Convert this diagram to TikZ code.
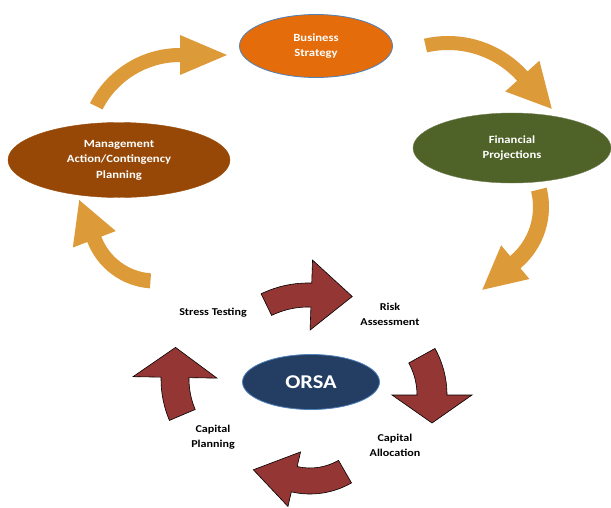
\documentclass[tikz,border=0pt]{standalone}
\usepackage{fontspec}
\setmainfont[FakeStretch=1.15]{Carlito}
\usetikzlibrary{shapes.geometric}

\definecolor{gold}{RGB}{221,154,56}
\definecolor{wine}{RGB}{148,54,52}
\definecolor{pumpkin}{RGB}{228,108,10}
\definecolor{olive}{RGB}{79,98,40}
\definecolor{rust}{RGB}{151,72,6}
\definecolor{navy}{RGB}{35,62,98}
\definecolor{steel}{RGB}{79,129,189}

% curved block arrow along a circle: [style]{centre}{radius}{tail angle}{head angle}{half band}{half head}{head length}
\newcommand{\bandarrow}[8][]{%
  \pgfmathsetmacro\bandturn{ifthenelse(#5>#4,90,-90)}
  \pgfmathsetmacro\ro{#3+#6}
  \pgfmathsetmacro\ri{#3-#6}
  \pgfmathsetmacro\ho{#3+#7}
  \pgfmathsetmacro\hi{#3-#7}
  \pgfmathsetmacro\tipx{#3*cos(#5)+#8*cos(#5+\bandturn)}
  \pgfmathsetmacro\tipy{#3*sin(#5)+#8*sin(#5+\bandturn)}
  \begin{scope}[shift={#2}]
    \filldraw[#1] (#4:\ro) arc[start angle=#4,end angle=#5,radius=\ro]
      -- (#5:\ho) -- (\tipx,\tipy) -- (#5:\hi) -- (#5:\ri)
      arc[start angle=#5,end angle=#4,radius=\ri] -- cycle;
  \end{scope}}

\begin{document}
\begin{tikzpicture}[x=1pt,y=-1pt,
    stage/.style={ellipse,inner sep=0pt,text=white,align=center,
      font=\bfseries\fontsize{11}{15.5}\selectfont},
    step label/.style={align=center,font=\bfseries\fontsize{10.5}{15}\selectfont},
    orangearrow/.style={fill=gold,draw=none},
    redarrow/.style={fill=wine,draw=black,line width=0.6pt,line join=miter}]
  \useasboundingbox (0,0) rectangle (611,507);

  % outer cycle
  \bandarrow[orangearrow]{(180,149)}{94}{207}{270}{7}{20}{47}
  \bandarrow[orangearrow]{(448,143)}{100}{-103}{-42}{7}{23}{44}
  \bandarrow[orangearrow]{(469,207)}{72}{-14}{50}{8}{22}{43}
  \bandarrow[orangearrow]{(155,216)}{65}{94}{159}{7.5}{23}{42}

  \node[stage,fill=pumpkin,draw=steel,line width=0.8pt,minimum width=153,minimum height=63] (strategy) at (316,46) {Business\\Strategy};
  \node[stage,fill=olive,draw=olive!80!white,minimum width=198,minimum height=70] (projections) at (512,148) {Financial\\Projections};
  \node[stage,fill=rust,draw=rust,minimum width=222,minimum height=75] (management) at (119,160) {Management\\Action/Contingency\\Planning};

  % inner ORSA cycle
  \bandarrow[redarrow]{(308,390)}{95}{-116}{-88}{12}{35}{41}
  \bandarrow[redarrow]{(351,395)}{81}{-29}{0}{15}{40}{28}
  \bandarrow[redarrow]{(310,411)}{70}{60}{103}{13}{28}{42}
  \bandarrow[redarrow]{(267,379)}{92}{157}{181}{14}{42}{30}

  \node[stage,fill=navy,draw=steel,line width=0.8pt,minimum width=137,minimum height=55,
    font=\bfseries\fontsize{19.5}{21}\selectfont] (orsa) at (311,382) {ORSA};

  \node[step label] (stress) at (213,313) {Stress Testing};
  \node[step label] (risk) at (390,314) {Risk\\Assessment};
  \node[step label] (allocation) at (395,445) {Capital\\Allocation};
  \node[step label] (planning) at (213,437) {Capital\\Planning};
\end{tikzpicture}
\end{document}
